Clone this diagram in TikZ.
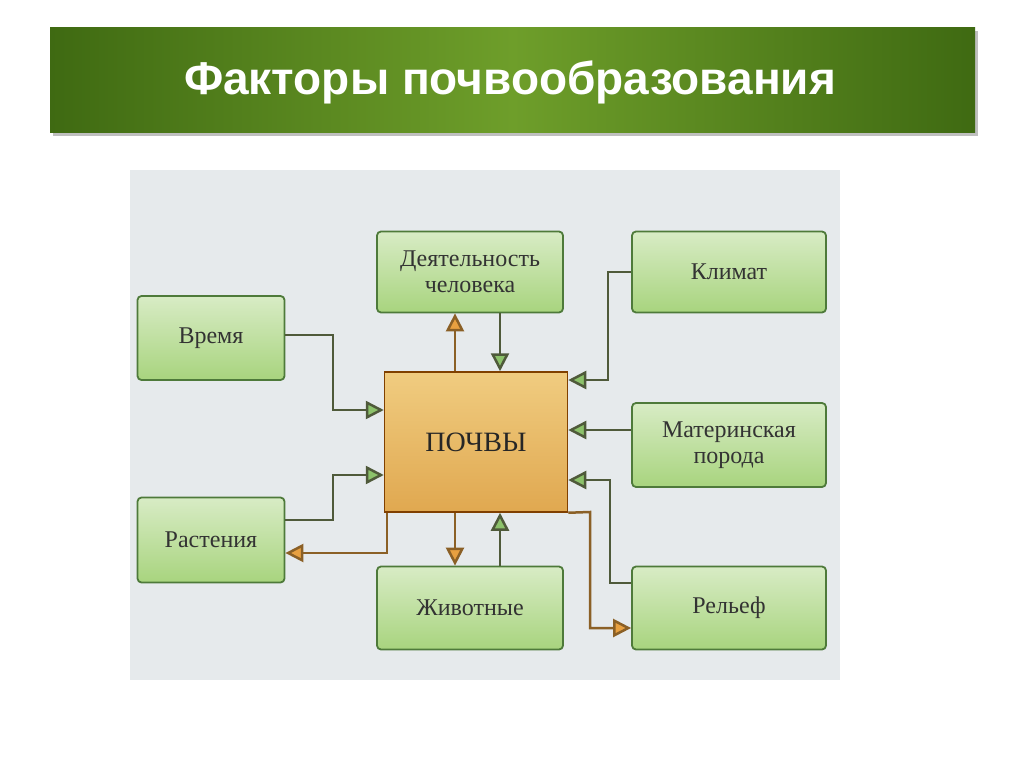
\documentclass[tikz,border=0pt]{standalone}
\usepackage{fontspec}
\setmainfont{Liberation Serif}
\newfontfamily\titlefont{Liberation Sans}
\usetikzlibrary{arrows.meta,shadows}
\definecolor{boxg}{HTML}{A8D47E}
\definecolor{boxgd}{HTML}{4E7A3A}
\definecolor{lineg}{HTML}{4F5A3A}
\definecolor{arrg}{HTML}{8CC26A}
\definecolor{arro}{HTML}{E8A040}
\definecolor{hdark}{HTML}{3F6A12}
\definecolor{hmid}{HTML}{6E9E2A}
\definecolor{bgpanel}{HTML}{E6EAEC}
\definecolor{soiltop}{HTML}{F0CC80}
\definecolor{soilbot}{HTML}{E0A850}
\tikzset{
 fbox/.style={draw=boxgd,line width=1.8pt,rounded corners=4pt,top color=boxg!45!white,bottom color=boxg,
   minimum width=#1,align=center,font=\fontsize{24}{26}\selectfont,text=black!80,inner sep=2pt},
 link/.style={draw=lineg,line width=2.5pt},
 ga/.style={link,-{Triangle[length=18pt,width=18pt,fill=arrg]}},
 oa/.style={draw=arro!60!black,line width=2.5pt,-{Triangle[length=18pt,width=18pt,fill=arro]}}
}
\begin{document}
\begin{tikzpicture}[x=1pt,y=-1pt]
\useasboundingbox (0,0) rectangle (1024,767);
\fill[white] (0,0) rectangle (1024,767);
\fill[black!25] (53,31) rectangle (978,136);
\shade[left color=hdark,right color=hdark,middle color=hmid] (50,28) rectangle (975,133);
\node[font=\titlefont\bfseries\fontsize{46}{52}\selectfont,text=white] (title) at (510,82) {Факторы почвообразования};
\fill[bgpanel] (130,170) rectangle (840,680);
\node[fbox=186pt,minimum height=81pt] (d) at (470,272) {Деятельность\\человека};
\node[fbox=194pt,minimum height=81pt] (k) at (729,272) {Климат};
\node[fbox=147pt,minimum height=84pt] (v) at (211,338) {Время};
\node[draw=orange!50!black,line width=1.5pt,top color=soiltop,bottom color=soilbot,minimum width=183pt,minimum height=140pt,font=\fontsize{28}{30}\selectfont,text=black!85] (p) at (476,442) {ПОЧВЫ};
\node[fbox=194pt,minimum height=84pt] (m) at (729,445) {Материнская\\порода};
\node[fbox=147pt,minimum height=85pt] (r) at (211,540) {Растения};
\node[fbox=186pt,minimum height=83pt] (z) at (470,608) {Животные};
\node[fbox=194pt,minimum height=83pt] (rl) at (729,608) {Рельеф};
\coordinate (c1) at (333,335); \coordinate (c2) at (333,410);
\draw[ga] (v.east |- c1) -- (c1) -- (c2) -- (p.west |- c2);
\coordinate (c3) at (333,520); \coordinate (c4) at (333,475);
\draw[ga] (r.east |- c3) -- (c3) -- (c4) -- (p.west |- c4);
\coordinate (c5) at (387,553);
\draw[oa] (p.south west -| c5) -- (c5) -- (r.east |- c5);
\coordinate (c6) at (455,0); \coordinate (c7) at (500,0);
\draw[oa] (p.north -| c6) -- (d.south -| c6);
\draw[ga] (d.south -| c7) -- (p.north -| c7);
\draw[oa] (p.south -| c6) -- (z.north -| c6);
\draw[ga] (z.north -| c7) -- (p.south -| c7);
\coordinate (c8) at (608,272); \coordinate (c9) at (608,380);
\draw[ga] (k.west) -- (c8) -- (c9) -- (p.east |- c9);
\coordinate (c10) at (0,430);
\draw[ga] (m.west |- c10) -- (p.east |- c10);
\coordinate (c11) at (610,583); \coordinate (c12) at (610,480);
\draw[ga] (rl.west |- c11) -- (c11) -- (c12) -- (p.east |- c12);
\coordinate (c13) at (590,512); \coordinate (c14) at (590,628);
\draw[oa] (p.south east) -- (c13) -- (c14) -- (rl.west |- c14);
\end{tikzpicture}
\end{document}
